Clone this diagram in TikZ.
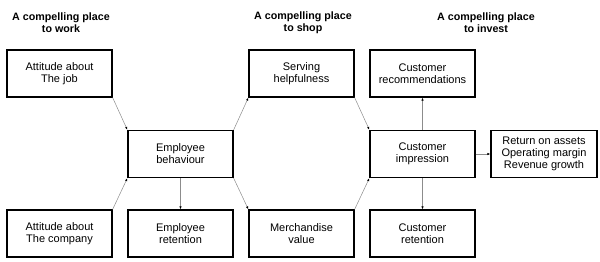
\documentclass[tikz,border=0pt]{standalone}
\usepackage{fontspec}
\setmainfont{Liberation Sans}
\usetikzlibrary{arrows.meta}
\begin{document}
\begin{tikzpicture}[x=1pt,y=-1pt,
  box/.style={draw=black,line width=1.3pt,minimum width=105pt,minimum height=47pt,inner sep=0pt,align=center,font=\fontsize{11}{12}\selectfont},
  head/.style={align=center,font=\fontsize{10.7}{12}\selectfont\bfseries},
  conn/.style={draw=black!45,line width=0.5pt,-{Latex[length=3pt,width=2.4pt,black]}}]
\useasboundingbox (0,0) rectangle (600,262);
\node[head] (h1) at (61,23) {A compelling place\\to work};
\node[head] (h2) at (303,23) {A compelling place\\to shop};
\node[head] (h3) at (486,23) {A compelling place\\to invest};
\node[box] (job) at (59.5,73.5) {Attitude about\\The job};
\node[box] (serv) at (301.5,73.5) {Serving\\helpfulness};
\node[box] (rec) at (422.5,73.5) {Customer\\recommendations};
\node[box] (eb) at (180.5,154) {Employee\\behaviour};
\node[box] (ci) at (422.5,154) {Customer\\impression};
\node[box,minimum width=106pt] (ret) at (544,154) {Return on assets\\Operating margin\\Revenue growth};
\node[box] (comp) at (59.5,233.5) {Attitude about\\The company};
\node[box] (er) at (180.5,233.5) {Employee\\retention};
\node[box] (mv) at (301.5,233.5) {Merchandise\\value};
\node[box] (cr) at (422.5,233.5) {Customer\\retention};
\draw[conn] (job.south east) -- (eb.north west);
\draw[conn] (comp.north east) -- (eb.south west);
\draw[conn] (eb.north east) -- (serv.south west);
\draw[conn] (eb.south east) -- (mv.north west);
\draw[conn] (eb.south) -- (er.north);
\draw[conn] (serv.south east) -- (ci.north west);
\draw[conn] (mv.north east) -- (ci.south west);
\draw[conn] (ci.north) -- (rec.south);
\draw[conn] (ci.south) -- (cr.north);
\draw[conn] (ci.east) -- (ret.west);
\end{tikzpicture}
\end{document}
